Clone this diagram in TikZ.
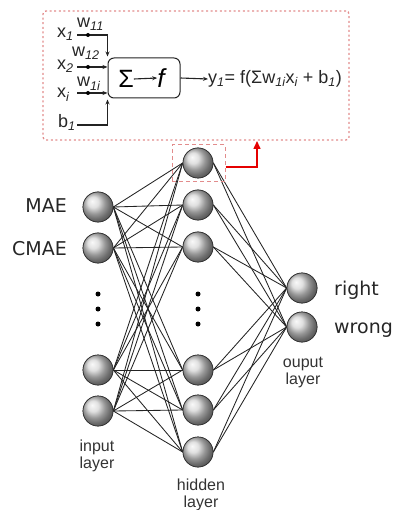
\documentclass[tikz,border=0pt]{standalone}
\usepackage{fontspec}
\setmainfont{Liberation Sans}
\newfontfamily\dejavu{DejaVu Sans}
\usetikzlibrary{arrows.meta}
\definecolor{dotred}{RGB}{226,140,140}
\definecolor{linegray}{RGB}{35,35,35}
\begin{document}
\begin{tikzpicture}[x=1pt,y=-1pt,
 neuron/.style={circle,minimum size=30pt,inner sep=0pt,ball color=gray!32,draw=black!80,line width=0.7pt},
 conn/.style={draw=linegray,line width=0.85pt},
 vdot/.style={circle,fill=black,minimum size=5pt,inner sep=0pt},
 bigtxt/.style={font=\dejavu\fontsize{19}{22}\selectfont,text=black!85,inner sep=0pt},
 laytxt/.style={font=\fontsize{16}{17}\selectfont,align=center,text=black!80,inner sep=0pt},
 smalltxt/.style={font=\fontsize{18}{20}\selectfont,inner sep=0pt,text=black!85},
 wire/.style={line width=1.1pt,draw=linegray},
 tip/.style={-{Stealth[length=5pt,width=4pt]}},
 wdot/.style={circle,fill=black,minimum size=4pt,inner sep=0pt},
 zoombox/.style={draw=dotred,line width=1.3pt,dash pattern=on 2pt off 2.6pt,rounded corners=3pt},
 selbox/.style={draw=dotred,line width=1pt,dash pattern=on 4pt off 3pt},
 redarrow/.style={draw=red!90!black,line width=1.5pt,-{Triangle[length=8pt,width=7pt]}},
]
\useasboundingbox (0,0) rectangle (398,510);

% neurons (placed first so connectors can refer to them)
\foreach \i/\y in {1/207,2/248,3/370,4/411} \node[neuron] (i\i) at (98,\y) {};
\foreach \h/\y in {1/163,2/205,3/247,4/370,5/410,6/452} \node[neuron] (h\h) at (198,\y) {};
\foreach \o/\y in {1/288,2/327} \node[neuron] (o\o) at (302,\y) {};

\foreach \i in {1,...,4}{\foreach \h in {1,...,6}{\draw[conn] (i\i.east) -- (h\h.west);}}
\foreach \h in {1,...,6}{\foreach \o in {1,2}{\draw[conn] (h\h.east) -- (o\o.west);}}

% redraw neurons on top of the connectors
\foreach \i/\y in {1/207,2/248,3/370,4/411} \node[neuron] (i\i) at (98,\y) {};
\foreach \h/\y in {1/163,2/205,3/247,4/370,5/410,6/452} \node[neuron] (h\h) at (198,\y) {};
\foreach \o/\y in {1/288,2/327} \node[neuron] (o\o) at (302,\y) {};

% vertical dots
\foreach \k/\y in {1/294,2/309,3/324}{
  \node[vdot] (di\k) at (98,\y) {};
  \node[vdot] (dh\k) at (198,\y) {};
}

% labels
\node[bigtxt,anchor=base east] (lmae) at (67,213) {MAE};
\node[bigtxt,anchor=base east] (lcmae) at (67,255) {CMAE};
\node[bigtxt,anchor=base west] (lright) at (334,295) {right};
\node[bigtxt,anchor=base west] (lwrong) at (334,333) {wrong};
\node[laytxt] (linput) at (97,456) {input\\layer};
\node[laytxt] (lhidden) at (201,495) {hidden\\layer};
\node[laytxt] (lout) at (303,372) {ouput\\layer};

% zoom boxes
\node[zoombox,minimum width=306pt,minimum height=129pt,inner sep=0pt] (zoom) at (196,75.5) {};
\node[selbox,minimum width=53pt,minimum height=37pt,inner sep=0pt] (sel) at (198.5,163.5) {};
\coordinate (ztip) at (257,141);
\draw[redarrow] ([yshift=-3.5pt]sel.east) -| (ztip);

% neuron detail
\node[draw=linegray,line width=1pt,rounded corners=6pt,minimum width=72pt,minimum height=40pt,inner sep=0pt] (sbox) at (144,78) {};
\node[font=\fontsize{25}{25}\selectfont,inner sep=0pt] (sig) at (126,79) {Σ};
\node[font=\itshape\fontsize{26}{26}\selectfont,inner sep=0pt] (ff) at (161,78) {f};
\draw[wire,tip] (sig.east) -- (ff.west);

\node[smalltxt,anchor=base west] (x1) at (57,38) {x\textsubscript{\itshape 1}};
\node[smalltxt,anchor=base west] (x2) at (57,70) {x\textsubscript{\itshape 2}};
\node[smalltxt,anchor=base west] (xi) at (57,98) {x\textsubscript{\itshape i}};
\node[smalltxt,anchor=base west] (b1) at (58,128) {b\textsubscript{\itshape 1}};
\node[smalltxt,anchor=base west] (w11) at (77,28) {w\textsubscript{\itshape 11}};
\node[smalltxt,anchor=base west] (w12) at (72,57) {w\textsubscript{\itshape 12}};
\node[smalltxt,anchor=base west] (w1i) at (77,87) {w\textsubscript{\itshape 1i}};

\coordinate (s1) at (77,35);
\coordinate (s2) at (77,67);
\coordinate (s3) at (77,93);
\coordinate (s4) at (77,125);
\draw[wire,tip] (s1) -| ([yshift=1pt]sbox.north west);
\draw[wire,tip] (s2) -- (s2 -| sbox.west);
\draw[wire,tip] (s3) -- (s3 -| sbox.west);
\draw[wire,tip] (s4) -| ([yshift=-1pt]sbox.south west);
\node[wdot] (wd1) at (88,35) {};
\node[wdot] (wd2) at (88,67) {};
\node[wdot] (wd3) at (88,93) {};

\node[smalltxt,anchor=west] (form) at (208,79) {y\textsubscript{\itshape 1}= f(Σw\textsubscript{\itshape 1i}x\textsubscript{\itshape i} + b\textsubscript{\itshape 1})};
\draw[wire,tip] (sbox.east) -- (form.west);
\end{tikzpicture}
\end{document}
